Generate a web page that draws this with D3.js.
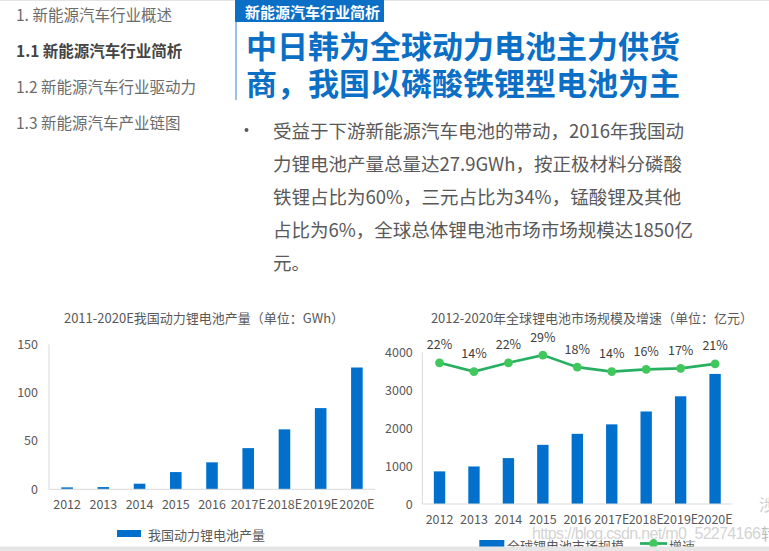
<!DOCTYPE html>
<html>
<head>
<meta charset="utf-8">
<script src="https://cdn.jsdelivr.net/npm/d3@7"></script>
<style>
  body { margin: 0; background: #fff; }
  svg { display: block; font-family: "Noto Sans CJK SC", "Noto Sans", sans-serif; }
</style>
</head>
<body>
<svg id="page"></svg>
<script>
// page size
var W = 769, H = 551;

// chart data
var years = ["2012", "2013", "2014", "2015", "2016", "2017E", "2018E", "2019E", "2020E"];
var cnOutput = [2, 2.3, 5.8, 17.8, 27.9, 42.6, 62, 84, 126];          // GWh
var marketSize = [860, 990, 1210, 1560, 1850, 2100, 2440, 2840, 3430]; // 亿元
var growth = [22, 14, 22, 29, 18, 14, 16, 17, 21];                     // %
var leftTicks = [0, 50, 100, 150];
var rightTicks = [0, 1000, 2000, 3000, 4000];

// page text
var navItems = ["1. 新能源汽车行业概述", "1.1 新能源汽车行业简析", "1.2 新能源汽车行业驱动力", "1.3 新能源汽车产业链图"];
var titleLines = ["中日韩为全球动力电池主力供货", "商，我国以磷酸铁锂型电池为主"];
var bodyLines = [
  "受益于下游新能源汽车电池的带动，2016年我国动",
  "力锂电池产量总量达27.9GWh，按正极材料分磷酸",
  "铁锂占比为60%，三元占比为34%，锰酸锂及其他",
  "占比为6%，全球总体锂电池市场市场规模达1850亿",
  "元。"
];

var blue = "#0B6FC6", barBlue = "#0070CC", textGray = "#595959", axisGray = "#d9d9d9";

var svg = d3.select("#page").attr("width", W).attr("height", H);

// top hairline
svg.append("line").attr("x1", 0).attr("x2", W).attr("y1", 0.5).attr("y2", 0.5)
  .attr("stroke", "#e4e4e4");

// left navigation
svg.append("g").selectAll("text").data(navItems).enter().append("text")
  .attr("x", 16)
  .attr("y", function(d, i) { return 14 + i * 36; })
  .attr("dominant-baseline", "central")
  .attr("font-size", 15.5)
  .attr("font-weight", function(d, i) { return i == 1 ? 700 : 400; })
  .attr("fill", function(d, i) { return i == 1 ? "#444" : "#6b6b6b"; })
  .text(function(d) { return d; });

// section tag + title
svg.append("line").attr("x1", 236).attr("x2", 236).attr("y1", 0).attr("y2", 100)
  .attr("stroke", "#7fa9d6").attr("stroke-width", 1.5);
svg.append("rect").attr("x", 235).attr("y", 0).attr("width", 149).attr("height", 22).attr("fill", blue);
svg.append("text").attr("x", 245).attr("y", 11).attr("dominant-baseline", "central")
  .attr("font-size", 15).attr("font-weight", 700).attr("fill", "#fff").text("新能源汽车行业简析");

svg.append("g").selectAll("text").data(titleLines).enter().append("text")
  .attr("x", 246)
  .attr("y", function(d, i) { return 44.5 + i * 37; })
  .attr("dominant-baseline", "central")
  .attr("font-size", 31)
  .attr("font-weight", 700)
  .attr("fill", blue)
  .text(function(d) { return d; });

// bullet paragraph
svg.append("circle").attr("cx", 246.5).attr("cy", 130).attr("r", 2).attr("fill", textGray);
svg.append("g").selectAll("text").data(bodyLines).enter().append("text")
  .attr("x", 273)
  .attr("y", function(d, i) { return 130 + i * 33; })
  .attr("dominant-baseline", "central")
  .attr("font-size", 18.5)
  .attr("fill", textGray)
  .text(function(d) { return d; });

// helper to restyle axis text
function styleAxis(g) {
  g.select(".domain").remove();
  g.selectAll("text").attr("font-family", "Noto Sans CJK SC").attr("font-size", 12.5).attr("fill", textGray);
}

// ---------- left chart: China power battery output ----------
var xL = d3.scaleBand().domain(years).range([49, 375]).paddingInner(0.68).paddingOuter(0.34);
var yL = d3.scaleLinear().domain([0, 150]).range([489.3, 344.3]);

svg.append("text").attr("x", 204).attr("y", 317).attr("text-anchor", "middle")
  .attr("dominant-baseline", "central").attr("font-size", 13).attr("fill", textGray)
  .text("2011-2020E我国动力锂电池产量（单位：GWh）");

svg.append("line").attr("x1", 49).attr("x2", 49).attr("y1", yL(150)).attr("y2", yL(0)).attr("stroke", axisGray);

svg.append("g").attr("transform", "translate(49,0)")
  .call(d3.axisLeft(yL).tickValues(leftTicks).tickFormat(d3.format("d")).tickSize(0).tickPadding(11))
  .call(styleAxis);

svg.append("g").selectAll("rect").data(cnOutput).enter().append("rect")
  .attr("x", function(d, i) { return xL(years[i]); })
  .attr("y", function(d) { return yL(d); })
  .attr("width", xL.bandwidth())
  .attr("height", function(d) { return yL(0) - yL(d); })
  .attr("fill", barBlue);

svg.append("line").attr("x1", 49).attr("x2", 375).attr("y1", yL(0)).attr("y2", yL(0)).attr("stroke", axisGray);

svg.append("g").attr("transform", "translate(0," + yL(0) + ")")
  .call(d3.axisBottom(xL).tickSize(0).tickPadding(10.5))
  .call(styleAxis);

// legend
svg.append("rect").attr("x", 117).attr("y", 530).attr("width", 24).attr("height", 7).attr("fill", barBlue);
svg.append("text").attr("x", 148).attr("y", 534).attr("dominant-baseline", "central")
  .attr("font-size", 13).attr("fill", textGray).text("我国动力锂电池产量");

// ---------- right chart: global Li battery market ----------
var xR = d3.scaleBand().domain(years).range([422.3, 732.3]).paddingInner(0.67).paddingOuter(0.335);
var yR = d3.scaleLinear().domain([0, 4000]).range([504, 352.3]);
var yG = d3.scaleLinear().domain([-106, 31.5]).range([504, 352.3]); // hidden secondary axis (%)

svg.append("text").attr("x", 592).attr("y", 317).attr("text-anchor", "middle")
  .attr("dominant-baseline", "central").attr("font-size", 13).attr("fill", textGray)
  .text("2012-2020年全球锂电池市场规模及增速（单位：亿元）");

svg.append("line").attr("x1", 422.3).attr("x2", 422.3).attr("y1", yR(4000)).attr("y2", yR(0)).attr("stroke", axisGray);

svg.append("g").attr("transform", "translate(422.3,0)")
  .call(d3.axisLeft(yR).tickValues(rightTicks).tickFormat(d3.format("d")).tickSize(0).tickPadding(9.5))
  .call(styleAxis);

svg.append("g").selectAll("rect").data(marketSize).enter().append("rect")
  .attr("x", function(d, i) { return xR(years[i]); })
  .attr("y", function(d) { return yR(d); })
  .attr("width", xR.bandwidth())
  .attr("height", function(d) { return yR(0) - yR(d); })
  .attr("fill", barBlue);

svg.append("line").attr("x1", 422.3).attr("x2", 732.3).attr("y1", yR(0)).attr("y2", yR(0)).attr("stroke", axisGray);

svg.append("g").attr("transform", "translate(0," + yR(0) + ")")
  .call(d3.axisBottom(xR).tickSize(0).tickPadding(11.5))
  .call(styleAxis);

// growth line
var cx = function(i) { return xR(years[i]) + xR.bandwidth() / 2; };
var line = d3.line().x(function(d, i) { return cx(i); }).y(function(d) { return yG(d); });
svg.append("path").datum(growth).attr("d", line)
  .attr("fill", "none").attr("stroke", "#27b062").attr("stroke-width", 2.75);
svg.append("g").selectAll("circle").data(growth).enter().append("circle")
  .attr("cx", function(d, i) { return cx(i); })
  .attr("cy", function(d) { return yG(d); })
  .attr("r", 4.4)
  .attr("fill", "#40c85c");
svg.append("g").selectAll("text").data(growth).enter().append("text")
  .attr("x", function(d, i) { return cx(i); })
  .attr("y", function(d) { return yG(d) - 19; })
  .attr("text-anchor", "middle")
  .attr("dominant-baseline", "central")
  .attr("font-size", 12.5)
  .attr("fill", "#404040")
  .text(function(d) { return d + "%"; });

// legend (partly hidden by the bottom strip)
svg.append("rect").attr("x", 479.3).attr("y", 540).attr("width", 25).attr("height", 7).attr("fill", barBlue);
svg.append("text").attr("x", 507).attr("y", 545).attr("dominant-baseline", "central")
  .attr("font-size", 13).attr("fill", textGray).text("全球锂电池市场规模");
svg.append("line").attr("x1", 640).attr("x2", 667).attr("y1", 543.5).attr("y2", 543.5)
  .attr("stroke", "#27b062").attr("stroke-width", 2.75);
svg.append("circle").attr("cx", 653.5).attr("cy", 543.5).attr("r", 4.4).attr("fill", "#40c85c");
svg.append("text").attr("x", 669).attr("y", 545).attr("dominant-baseline", "central")
  .attr("font-size", 13).attr("fill", textGray).text("增速");

// watermark
svg.append("text").attr("x", 532).attr("y", 533).attr("dominant-baseline", "central")
  .attr("font-family", "Liberation Sans").attr("font-size", 16).attr("fill", "#c8c8c8")
  .attr("fill-opacity", 0.8).attr("textLength", 229).text("https://blog.csdn.net/m0_52274166");
svg.append("text").attr("x", 761).attr("y", 533).attr("dominant-baseline", "central")
  .attr("font-size", 16).attr("fill", "#bdbdbd").text("转");
svg.append("text").attr("x", 759).attr("y", 504).attr("dominant-baseline", "central")
  .attr("font-size", 16).attr("fill", "#cfcfcf").text("涉");

// bottom strip
svg.append("rect").attr("x", 0).attr("y", 546.5).attr("width", W).attr("height", H - 546.5).attr("fill", "#e6e6e6");
</script>
</body>
</html>
